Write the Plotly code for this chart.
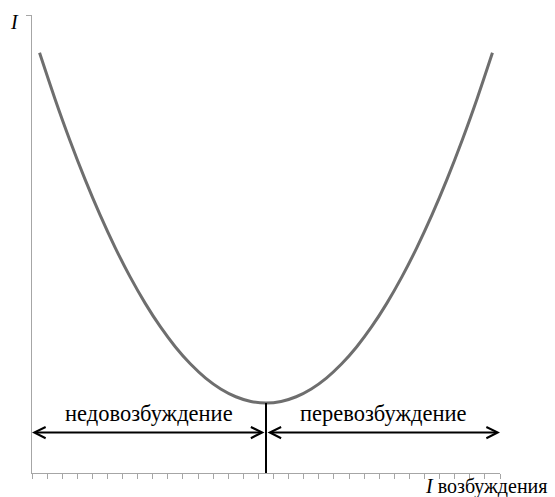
import plotly.graph_objects as go

# Data
categories = list(range(1, 32))  # 31 category slots along the excitation-current axis
current = [270, 241, 214, 189, 166, 145, 126, 109, 94, 81, 70, 61, 54, 49, 46, 45,
           46, 49, 54, 61, 70, 81, 94, 109, 126, 145, 166, 189, 214, 241, 270]
min_category = 16
arrow_level = 26
y_max = 294.3
left_label = "недовозбуждение"
right_label = "перевозбуждение"
x_title = "возбуждения"
y_title = "I"

x_pos = [c - 0.5 for c in categories]
x_min_pos = min_category - 0.5
x_end = len(categories)

fig = go.Figure()
fig.add_trace(go.Scatter(
    x=x_pos, y=current, mode="lines",
    line=dict(color="#6e6e6e", width=3, shape="spline", smoothing=0.8),
    hoverinfo="skip", showlegend=False,
))
# vertical divider at minimum
fig.add_trace(go.Scatter(
    x=[x_min_pos, x_min_pos], y=[0, current[min_category - 1]], mode="lines",
    line=dict(color="black", width=2), hoverinfo="skip", showlegend=False,
))

serif = "Liberation Serif, Times New Roman, serif"
arrow_common = dict(
    xref="x", yref="y", axref="x", ayref="y", text="", showarrow=True,
    arrowside="end+start", arrowhead=5, startarrowhead=5,
    arrowsize=1.1, startarrowsize=1.1, arrowwidth=2, arrowcolor="black",
    standoff=0, startstandoff=0,
)
fig.add_annotation(x=0, y=arrow_level, ax=x_min_pos, ay=arrow_level, **arrow_common)
fig.add_annotation(x=x_end, y=arrow_level, ax=x_min_pos, ay=arrow_level, **arrow_common)

fig.add_annotation(x=x_min_pos / 2, y=arrow_level, yshift=19, text=left_label,
                   showarrow=False, font=dict(family=serif, size=22.5, color="black"))
fig.add_annotation(x=(x_min_pos + x_end) / 2, y=arrow_level, yshift=19, text=right_label,
                   showarrow=False, font=dict(family=serif, size=22.5, color="black"))
fig.add_annotation(xref="paper", yref="paper", x=1.105, y=-0.029, xanchor="right", yanchor="middle",
                   text="<i>I</i>\u00a0" + x_title, showarrow=False, borderpad=0,
                   font=dict(family=serif, size=20, color="black"))
fig.add_annotation(xref="paper", yref="paper", x=-0.038, y=0.985, xanchor="center", yanchor="middle",
                   text="<i>" + y_title + "</i>", showarrow=False,
                   font=dict(family=serif, size=20, color="black"))

fig.update_layout(
    width=555, height=497,
    margin=dict(l=32, r=55, t=15, b=24),
    plot_bgcolor="white", paper_bgcolor="white",
    xaxis=dict(range=[0, x_end], showgrid=False, zeroline=False, showline=True,
               linecolor="#a6a6a6", linewidth=1, ticks="outside", ticklen=5,
               tickcolor="#a6a6a6", tick0=0, dtick=1, showticklabels=False),
    yaxis=dict(range=[0, y_max], showgrid=False, zeroline=False, showline=True,
               linecolor="#a6a6a6", linewidth=1, ticks="outside", ticklen=5,
               tickcolor="#a6a6a6", tickvals=[y_max], showticklabels=False),
)
fig.write_html("out.html", config={"displayModeBar": False},
               post_script="document.body.style.margin='0';document.body.style.overflow='hidden';")
